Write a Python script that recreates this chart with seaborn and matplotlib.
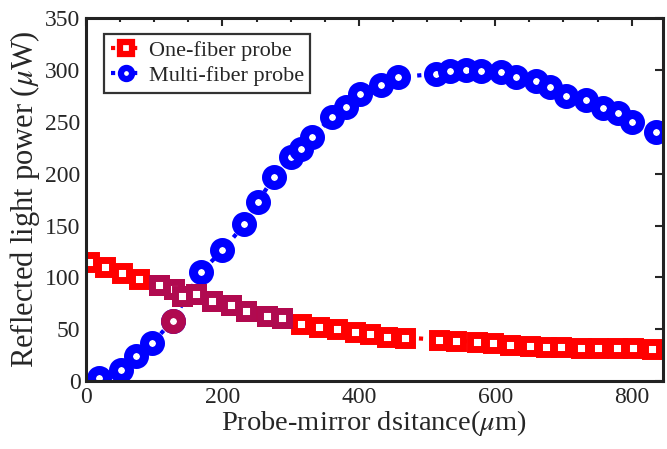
import matplotlib
matplotlib.use("Agg")
import matplotlib.pyplot as plt
import seaborn as sns
import numpy as np
from matplotlib.ticker import MultipleLocator

# ---- data ----
one_x = [5, 28, 53, 78, 107, 129, 141, 161, 185, 212, 234, 266, 288, 315, 342, 368, 395,
         416, 442, 468, 518, 543, 573, 597, 621, 651, 675, 697, 726, 751, 778, 802, 830]
one_y = [115, 110, 104, 98, 93, 89, 82, 84, 77, 73, 68, 63, 61, 55, 52, 50, 47,
         45, 43, 42, 40, 39, 38, 37, 35, 34, 33, 33, 32, 32, 32, 32, 31]
multi_x = [19, 51, 73, 97, 127, 168, 200, 232, 252, 276, 300, 315, 332, 361, 381, 401,
           433, 457, 513, 533, 557, 579, 609, 631, 660, 680, 704, 733, 758, 780, 800, 836]
multi_y = [3, 11, 24, 37, 58, 105, 126, 151, 173, 197, 216, 224, 235, 255, 264, 277,
           285, 293, 296, 299, 300, 299, 298, 293, 289, 283, 275, 271, 263, 258, 250, 240]
labels = ["One-fiber probe", "Multi-fiber probe"]
x_label = "Probe-mirror dsitance($\\mu$m)"
y_label = "Reflected light power ($\\mu$W)"

RED = "#ff0000"
BLUE = "#0000ff"
PURPLE = "#b00a50"

sns.set_style("white")
plt.rcParams["font.family"] = ["Liberation Serif", "DejaVu Serif"]
plt.rcParams["mathtext.fontset"] = "stix"

fig = plt.figure(figsize=(6.67, 4.49), dpi=100)
ax = fig.add_axes([0.129, 0.151, 0.865, 0.809])

SQ = dict(marker="s", markersize=10, markerfacecolor="white", markeredgewidth=5)
CI = dict(marker="o", markersize=11.5, markerfacecolor="white", markeredgewidth=6.5)

sns.lineplot(x=one_x, y=one_y, ax=ax, color=RED, linestyle=":", linewidth=3,
             markeredgecolor=RED, label=labels[0], sort=False, estimator=None, **SQ)
sns.lineplot(x=multi_x, y=multi_y, ax=ax, color=BLUE, linestyle=":", linewidth=3,
             markeredgecolor=BLUE, label=labels[1], sort=False, estimator=None, **CI)

# overlap-coloured markers in the crossing region
px = [v for v in one_x if 100 <= v <= 290]
py = [one_y[one_x.index(v)] for v in px]
sns.lineplot(x=px, y=py, ax=ax, color=PURPLE, linestyle="", markeredgecolor=PURPLE,
             sort=False, estimator=None, legend=False, **SQ)
bx = [multi_x[4]]
by = [multi_y[4]]
sns.lineplot(x=bx, y=by, ax=ax, color=PURPLE, linestyle="", markeredgecolor=PURPLE,
             sort=False, estimator=None, legend=False, **CI)

ax.set_xlim(0, 846)
ax.set_ylim(0, 350)
ax.xaxis.set_major_locator(MultipleLocator(200))
ax.xaxis.set_minor_locator(MultipleLocator(50))
ax.yaxis.set_major_locator(MultipleLocator(50))
ax.tick_params(which="both", direction="in", top=True, right=True, width=1.5,
               labelsize=17, pad=4)
ax.tick_params(which="major", length=6)
ax.tick_params(which="minor", length=3, left=False, right=False)
for s in ax.spines.values():
    s.set_linewidth(2.2)
    s.set_color("#222222")

ax.set_xlabel(x_label, fontsize=20.5, labelpad=0)
ax.set_ylabel(y_label, fontsize=22, labelpad=2)

h, l = ax.get_legend_handles_labels()
leg = ax.legend(h[:2], l[:2], loc="upper left", bbox_to_anchor=(0.02, 0.975),
                fontsize=16, frameon=True, fancybox=False, handlelength=1.4,
                handletextpad=0.3, borderpad=0.3, labelspacing=0.2,
                borderaxespad=0.3)
leg.get_frame().set_edgecolor("black")
leg.get_frame().set_linewidth(1.6)
for lh in leg.get_lines():
    lh.set_markersize(8)
    lh.set_markeredgewidth(4.5)

fig.savefig("out.png", dpi=100)
